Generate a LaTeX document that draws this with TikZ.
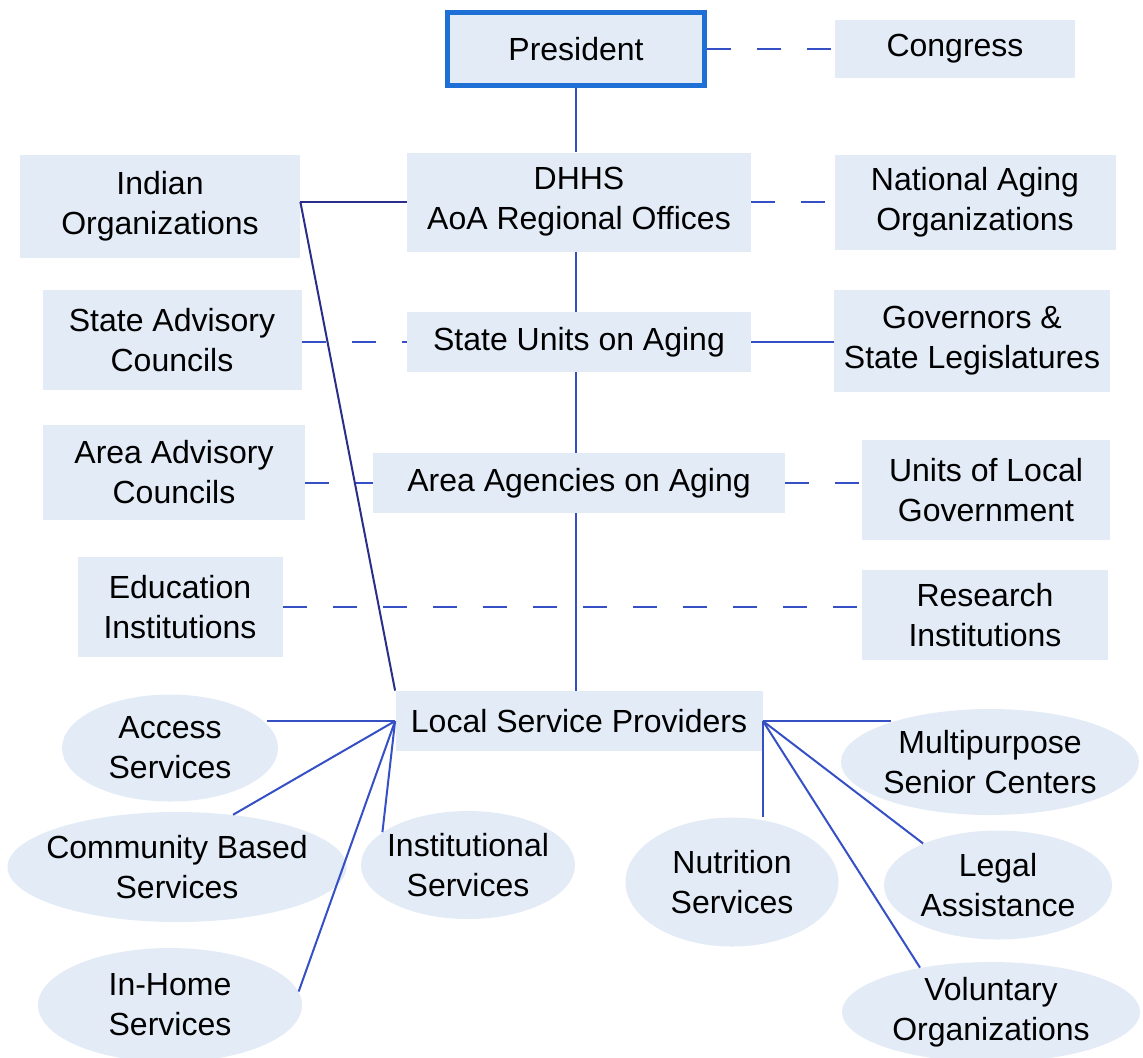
\documentclass[tikz,border=0pt]{standalone}
\usepackage{fontspec}
\setmainfont{Liberation Sans}
\usetikzlibrary{shapes.geometric}
\definecolor{boxfill}{HTML}{E2EBF6}
\definecolor{linkblue}{HTML}{3450C4}
\definecolor{darklink}{HTML}{2A2E88}
\definecolor{presblue}{HTML}{1E6FD6}
\tikzset{
  orgbox/.style={fill=boxfill, align=center, inner sep=0pt},
  svc/.style={ellipse, fill=boxfill, align=center, inner xsep=-6pt, inner ysep=0pt},
  link/.style={linkblue, line width=1pt},
  dlink/.style={link, dash pattern=on 12pt off 13pt},
}
\begin{document}
\begin{tikzpicture}[x=0.5pt,y=-0.5pt,font=\fontsize{16}{20}\selectfont]
\useasboundingbox (0,0) rectangle (1143,1057);
% spine
\node[orgbox, draw=presblue, line width=2.5pt, minimum width=128.5pt, minimum height=36.5pt] (pres) at (576,49) {President};
\node[orgbox, minimum width=172pt, minimum height=49.5pt] (dhhs) at (579,202) {DHHS\\AoA Regional Offices};
\node[orgbox, minimum width=172pt, minimum height=30pt] (sua) at (579,342) {State Units on Aging};
\node[orgbox, minimum width=206pt, minimum height=30pt] (aaa) at (579,483) {Area Agencies on Aging};
\node[orgbox, minimum width=183.5pt, minimum height=30pt] (lsp) at (579,721) {Local Service Providers};
% left column
\node[orgbox, minimum width=140pt, minimum height=51.5pt] (ind) at (160,206) {Indian\\Organizations};
\node[orgbox, minimum width=129.5pt, minimum height=50pt] (sadv) at (172,340) {State Advisory\\Councils};
\node[orgbox, minimum width=131pt, minimum height=47.5pt] (aadv) at (174,472) {Area Advisory\\Councils};
\node[orgbox, minimum width=102.5pt, minimum height=50pt] (edu) at (180,607) {Education\\Institutions};
% right column
\node[orgbox, minimum width=120pt, minimum height=29pt] (congress) at (955,49) {Congress};
\node[orgbox, minimum width=140.5pt, minimum height=47.5pt] (nao) at (975,202) {National Aging\\Organizations};
\node[orgbox, minimum width=138pt, minimum height=51pt] (gov) at (972,341) {Governors \&\\State Legislatures};
\node[orgbox, minimum width=124pt, minimum height=50pt] (units) at (986,490) {Units of Local\\Government};
\node[orgbox, minimum width=123pt, minimum height=45pt] (res) at (985,615) {Research\\Institutions};
% services
\node[svc, minimum width=108pt, minimum height=53.5pt] (access) at (170,748) {Access\\Services};
\node[svc, minimum width=169.5pt, minimum height=55pt] (comm) at (177,867) {Community Based\\Services};
\node[svc, minimum width=132pt, minimum height=57pt] (home) at (170,1005) {In-Home\\Services};
\node[svc, minimum width=107pt, minimum height=54pt] (inst) at (468,865) {Institutional\\Services};
\node[svc, minimum width=106.5pt, minimum height=64.5pt] (nut) at (732,882) {Nutrition\\Services};
\node[svc, minimum width=149pt, minimum height=53pt] (msc) at (990,762) {Multipurpose\\Senior Centers};
\node[svc, minimum width=114pt, minimum height=54.5pt] (legal) at (998,885) {Legal\\Assistance};
\node[svc, minimum width=149pt, minimum height=50pt] (vol) at (991,1012) {Voluntary\\Organizations};
% connectors
\draw[link] (pres) -- (pres |- dhhs.north);
\draw[link] (pres |- dhhs.south) -- (pres |- sua.north);
\draw[link] (pres |- sua.south) -- (pres |- aaa.north);
\draw[link] (pres |- aaa.south) -- (pres |- lsp.north);
\draw[dlink] (pres.east) -- (congress.west);
\draw[dlink] (dhhs.east) -- (nao.west);
\draw[link] (sua.east) -- (sua.east -| gov.west);
\draw[dlink] (aaa.east) -- (aaa.east -| units.west);
\draw[dlink] (sadv.east |- sua.west) -- (sua.west);
\draw[dlink] (aadv.east |- aaa.west) -- (aaa.west);
\draw[dlink] (edu.east) -- (edu.east -| res.west);
\draw[darklink, line width=1pt] (ind.east |- dhhs.west) -- (dhhs.west);
\draw[darklink, line width=1pt] (ind.east |- dhhs.west) -- (lsp.north west);
\draw[link] (lsp.west) -- (lsp.west -| access.14);
\draw[link] (lsp.west) -- (comm.43);
\draw[link] (lsp.west) -- (home.6);
\draw[link] (lsp.west) -- (inst.159);
\draw[link] (lsp.east) -- (lsp.east -| msc.158);
\draw[link] (lsp.east) -- (lsp.east |- nut.north);
\draw[link] (lsp.east) -- (legal.151);
\draw[link] (lsp.east) -- (vol.148);
\end{tikzpicture}
\end{document}
